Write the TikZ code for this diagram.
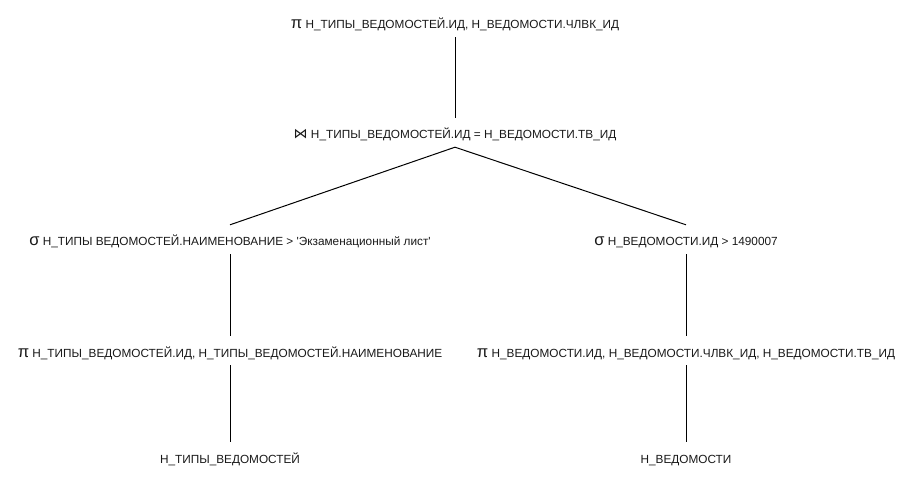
\documentclass[tikz,border=0pt]{standalone}
\usepackage{fontspec}
\setmainfont{Liberation Sans}
\newfontfamily\symfont{DejaVu Sans}
\usetikzlibrary{positioning}

\newcommand{\opsym}[1]{{\fontsize{16.5}{18}\selectfont #1}}
\newcommand{\joinsym}{{\symfont\fontsize{14}{16}\selectfont ⋈}}

\tikzset{
    rel/.style={inner sep=0pt, anchor=base, text height=21pt, text depth=8pt,
        font=\fontsize{11.8}{14}\selectfont, text=black!90},
    edge/.style={black, line width=1pt}
}

\begin{document}
\begin{tikzpicture}[x=1pt, y=-1pt]
    \useasboundingbox (0,0) rectangle (911,481);

    % Operators
    \node[rel] (proj) at (455,29) {\opsym{π} Н\_ТИПЫ\_ВЕДОМОСТЕЙ.ИД, Н\_ВЕДОМОСТИ.ЧЛВК\_ИД};
    \node[rel] (join) at (455,139) {\joinsym\ Н\_ТИПЫ\_ВЕДОМОСТЕЙ.ИД = Н\_ВЕДОМОСТИ.ТВ\_ИД};

    \node[rel] (selL) at (230,246) {\opsym{σ} Н\_ТИПЫ ВЕДОМОСТЕЙ.НАИМЕНОВАНИЕ > \textquotesingle Экзаменационный лист\textquotesingle};
    \node[rel] (selR) at (686,246) {\opsym{σ} Н\_ВЕДОМОСТИ.ИД > 1490007};

    \node[rel] (projL) at (230,357) {\opsym{π} Н\_ТИПЫ\_ВЕДОМОСТЕЙ.ИД, Н\_ТИПЫ\_ВЕДОМОСТЕЙ.НАИМЕНОВАНИЕ};
    \node[rel] (projR) at (686,357) {\opsym{π} Н\_ВЕДОМОСТИ.ИД, Н\_ВЕДОМОСТИ.ЧЛВК\_ИД, Н\_ВЕДОМОСТИ.ТВ\_ИД};

    % Relations
    \node[rel] (relL) at (230,463) {Н\_ТИПЫ\_ВЕДОМОСТЕЙ};
    \node[rel] (relR) at (686,463) {Н\_ВЕДОМОСТИ};

    % Edges
    \draw[edge] (proj.south) -- (join.north);
    \draw[edge] (join.south) -- (selL.north);
    \draw[edge] (join.south) -- (selR.north);
    \draw[edge] (selL.south) -- (projL.north);
    \draw[edge] (selR.south) -- (projR.north);
    \draw[edge] (projL.south) -- (relL.north);
    \draw[edge] (projR.south) -- (relR.north);
\end{tikzpicture}
\end{document}
